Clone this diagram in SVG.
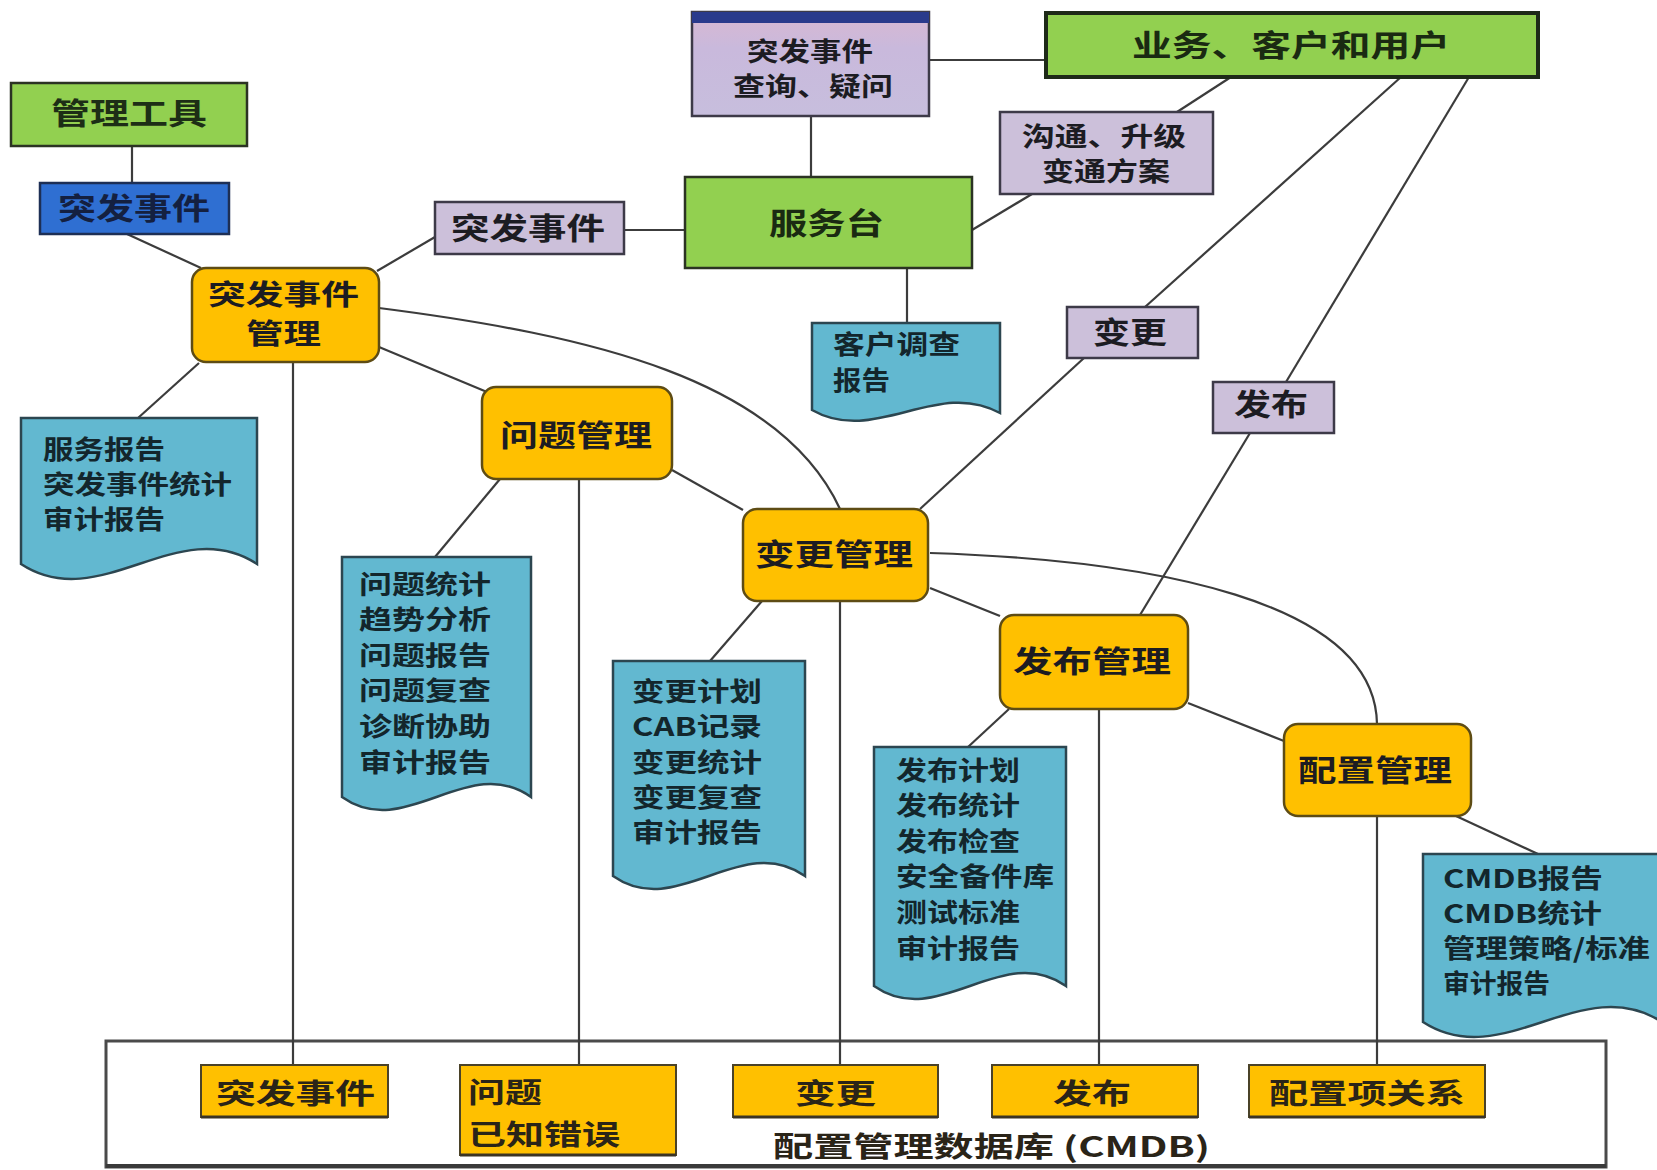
<svg xmlns="http://www.w3.org/2000/svg" width="1657" height="1170" viewBox="0 0 1657 1170">
<defs>
<linearGradient id="gq" x1="0" y1="0" x2="0" y2="1">
<stop offset="0" stop-color="#d9b8d2"/>
<stop offset="0.35" stop-color="#c9b9dc"/>
<stop offset="1" stop-color="#c7bedd"/>
</linearGradient>
</defs>
<style>
text{font-family:"Noto Sans CJK SC","Noto Sans",sans-serif;fill:#1c1c22;font-weight:600;}
.lbl{font-size:30px;}
.sm{font-size:26px;}
.doc-t{font-size:26px;fill:#13262c;}
.cm{font-size:28px;fill:#2a2418;}
.green{fill:#92d050;stroke:#2b3323;stroke-width:2.5;}
.purple{fill:#ccc0da;stroke:#3d3a48;stroke-width:2.5;}
.blue{fill:#2f6fd2;stroke:#1d2f55;stroke-width:2.5;}
.orange{fill:#ffc000;stroke:#5e4c14;stroke-width:2.5;}
.cmbox{fill:#ffc000;stroke:#4a4228;stroke-width:2;}
.doc{fill:#62b8d0;stroke:#2c4650;stroke-width:2.5;}
.conn line,.conn path{stroke:#3c3c3c;stroke-width:2.2;fill:none;}
</style>
<rect width="1657" height="1170" fill="#ffffff"/>

<g id="cmdb">
<rect x="106" y="1041" width="1500" height="126" fill="#ffffff" stroke="#4a4a4a" stroke-width="3"/>
<line x1="106" y1="1166" x2="1606" y2="1166" stroke="#3a3a3a" stroke-width="4"/>
<text class="cm" x="773" y="1157" textLength="437" lengthAdjust="spacingAndGlyphs" font-weight="bold">配置管理数据库 (CMDB)</text>
</g>

<g id="connectors" class="conn">
<line x1="132" y1="146" x2="132" y2="183"/>
<line x1="127" y1="234" x2="201" y2="268"/>
<line x1="377" y1="271" x2="435" y2="237"/>
<line x1="624" y1="230" x2="685" y2="230"/>
<line x1="929" y1="60" x2="1046" y2="60"/>
<line x1="811" y1="116" x2="811" y2="177"/>
<line x1="1231" y1="77" x2="1177" y2="112"/>
<line x1="1032" y1="194" x2="972" y2="230"/>
<line x1="907" y1="268" x2="907" y2="323"/>
<line x1="1401" y1="77" x2="1145" y2="307"/>
<line x1="1084" y1="358" x2="920" y2="509"/>
<line x1="1469" y1="77" x2="1286" y2="382"/>
<line x1="1250" y1="433" x2="1140" y2="615"/>
<line x1="199" y1="363" x2="138" y2="418"/>
<line x1="293" y1="362" x2="293" y2="1065"/>
<line x1="379" y1="347" x2="487" y2="392"/>
<path d="M379,308 C590,335 780,379 840,509"/>
<line x1="672" y1="470" x2="743" y2="510"/>
<line x1="500" y1="479" x2="435" y2="557"/>
<line x1="579" y1="479" x2="579" y2="1065"/>
<line x1="762" y1="601" x2="710" y2="661"/>
<line x1="840" y1="601" x2="840" y2="1065"/>
<line x1="930" y1="588" x2="1000" y2="616"/>
<path d="M930,553 C1150,560 1375,600 1377,724"/>
<line x1="1009" y1="709" x2="968" y2="747"/>
<line x1="1099" y1="709" x2="1099" y2="1065"/>
<line x1="1188" y1="703" x2="1284" y2="741"/>
<line x1="1377" y1="816" x2="1377" y2="1065"/>
<line x1="1456" y1="816" x2="1538" y2="854"/>
</g>

<g id="tools">
<rect class="green" x="11" y="83" width="236" height="63"/>
<text class="lbl" x="51" y="124" textLength="156" lengthAdjust="spacingAndGlyphs" style="fill:#1d2e16">管理工具</text>
</g>
<g id="incident-blue">
<rect class="blue" x="40" y="183" width="189" height="51"/>
<text class="lbl" x="58" y="219" textLength="152" lengthAdjust="spacingAndGlyphs" style="fill:#142040">突发事件</text>
</g>
<g id="incident-purple">
<rect class="purple" x="435" y="202" width="189" height="52"/>
<text class="lbl" x="451" y="239" textLength="154" lengthAdjust="spacingAndGlyphs">突发事件</text>
</g>
<g id="query">
<rect x="692" y="12" width="237" height="104" fill="url(#gq)" stroke="#3d3a48" stroke-width="2.5"/>
<rect x="692" y="12" width="237" height="11" fill="#2a3a8c"/>
<text class="sm"><tspan x="747" y="61" textLength="126" lengthAdjust="spacingAndGlyphs">突发事件</tspan><tspan x="733" y="96" textLength="160" lengthAdjust="spacingAndGlyphs">查询、疑问</tspan></text>
</g>
<g id="business">
<rect x="1046" y="13" width="492" height="64" fill="#92d050" stroke="#1e2a18" stroke-width="4"/>
<text class="lbl" x="1132" y="56" textLength="318" lengthAdjust="spacingAndGlyphs" style="fill:#1a2a12">业务、客户和用户</text>
</g>
<g id="servicedesk">
<rect class="green" x="685" y="177" width="287" height="91"/>
<text class="lbl" x="769" y="234" textLength="115" lengthAdjust="spacingAndGlyphs" style="fill:#1a2a12">服务台</text>
</g>
<g id="communicate">
<rect class="purple" x="1000" y="112" width="213" height="82"/>
<text class="sm"><tspan x="1022" y="146" textLength="164" lengthAdjust="spacingAndGlyphs">沟通、升级</tspan><tspan x="1042" y="181" textLength="128" lengthAdjust="spacingAndGlyphs">变通方案</tspan></text>
</g>
<g id="change-purple">
<rect class="purple" x="1067" y="307" width="131" height="51"/>
<text class="lbl" x="1093" y="343" textLength="74" lengthAdjust="spacingAndGlyphs">变更</text>
</g>
<g id="release-purple">
<rect class="purple" x="1213" y="382" width="121" height="51"/>
<text class="lbl" x="1234" y="415" textLength="74" lengthAdjust="spacingAndGlyphs">发布</text>
</g>

<g id="incident-mgmt">
<rect class="orange" x="192" y="268" width="187" height="94" rx="14"/>
<text style="font-size:28px"><tspan x="208" y="305" textLength="151" lengthAdjust="spacingAndGlyphs">突发事件</tspan><tspan x="246" y="344" textLength="75" lengthAdjust="spacingAndGlyphs">管理</tspan></text>
</g>
<g id="problem-mgmt">
<rect class="orange" x="482" y="387" width="190" height="92" rx="14"/>
<text class="lbl" x="500" y="446" textLength="152" lengthAdjust="spacingAndGlyphs">问题管理</text>
</g>
<g id="change-mgmt">
<rect class="orange" x="743" y="509" width="185" height="92" rx="14"/>
<text class="lbl" x="755" y="565" textLength="158" lengthAdjust="spacingAndGlyphs">变更管理</text>
</g>
<g id="release-mgmt">
<rect class="orange" x="1000" y="615" width="188" height="94" rx="14"/>
<text class="lbl" x="1013" y="672" textLength="158" lengthAdjust="spacingAndGlyphs">发布管理</text>
</g>
<g id="config-mgmt">
<rect class="orange" x="1284" y="724" width="187" height="92" rx="14"/>
<text class="lbl" x="1298" y="781" textLength="154" lengthAdjust="spacingAndGlyphs">配置管理</text>
</g>

<g id="doc-service">
<path class="doc" d="M21,418 H257 V564 C178,512 100,616 21,564 Z"/>
<text class="doc-t"><tspan x="43" y="459" textLength="122" lengthAdjust="spacingAndGlyphs">服务报告</tspan><tspan x="43" y="494" textLength="189" lengthAdjust="spacingAndGlyphs">突发事件统计</tspan><tspan x="43" y="529" textLength="122" lengthAdjust="spacingAndGlyphs">审计报告</tspan></text>
</g>
<g id="doc-customer">
<path class="doc" d="M812,323 H1000 V413 C937,378 875,446 812,410 Z"/>
<text class="doc-t"><tspan x="833" y="354" textLength="127" lengthAdjust="spacingAndGlyphs">客户调查</tspan><tspan x="833" y="390" textLength="57" lengthAdjust="spacingAndGlyphs">报告</tspan></text>
</g>
<g id="doc-problem">
<path class="doc" d="M342,557 H531 V797 C468,752 405,842 342,797 Z"/>
<text class="doc-t"><tspan x="359" y="594" textLength="132" lengthAdjust="spacingAndGlyphs">问题统计</tspan><tspan x="359" y="629" textLength="132" lengthAdjust="spacingAndGlyphs">趋势分析</tspan><tspan x="359" y="665" textLength="132" lengthAdjust="spacingAndGlyphs">问题报告</tspan><tspan x="359" y="700" textLength="132" lengthAdjust="spacingAndGlyphs">问题复查</tspan><tspan x="359" y="736" textLength="132" lengthAdjust="spacingAndGlyphs">诊断协助</tspan><tspan x="359" y="772" textLength="132" lengthAdjust="spacingAndGlyphs">审计报告</tspan></text>
</g>
<g id="doc-change">
<path class="doc" d="M613,661 H805 V876 C741,831 677,921 613,876 Z"/>
<text class="doc-t"><tspan x="632" y="701" textLength="130" lengthAdjust="spacingAndGlyphs">变更计划</tspan><tspan x="632" y="736" textLength="130" lengthAdjust="spacingAndGlyphs">CAB记录</tspan><tspan x="632" y="772" textLength="130" lengthAdjust="spacingAndGlyphs">变更统计</tspan><tspan x="632" y="807" textLength="130" lengthAdjust="spacingAndGlyphs">变更复查</tspan><tspan x="632" y="842" textLength="130" lengthAdjust="spacingAndGlyphs">审计报告</tspan></text>
</g>
<g id="doc-release">
<path class="doc" d="M874,747 H1066 V986 C1002,941 938,1031 874,986 Z"/>
<text class="doc-t"><tspan x="896" y="780" textLength="124" lengthAdjust="spacingAndGlyphs">发布计划</tspan><tspan x="896" y="815" textLength="124" lengthAdjust="spacingAndGlyphs">发布统计</tspan><tspan x="896" y="851" textLength="124" lengthAdjust="spacingAndGlyphs">发布检查</tspan><tspan x="896" y="886" textLength="158" lengthAdjust="spacingAndGlyphs">安全备件库</tspan><tspan x="896" y="922" textLength="124" lengthAdjust="spacingAndGlyphs">测试标准</tspan><tspan x="896" y="958" textLength="124" lengthAdjust="spacingAndGlyphs">审计报告</tspan></text>
</g>
<g id="doc-cmdb">
<path class="doc" d="M1423,854 H1662 V1022 C1582,970 1503,1074 1423,1022 Z"/>
<text class="doc-t"><tspan x="1443" y="888" textLength="160" lengthAdjust="spacingAndGlyphs">CMDB报告</tspan><tspan x="1443" y="923" textLength="159" lengthAdjust="spacingAndGlyphs">CMDB统计</tspan><tspan x="1443" y="958" textLength="207" lengthAdjust="spacingAndGlyphs">管理策略/标准</tspan><tspan x="1443" y="993" textLength="107" lengthAdjust="spacingAndGlyphs">审计报告</tspan></text>
</g>

<g id="cmdb-incident">
<rect class="cmbox" x="201" y="1065" width="187" height="52"/>
<line x1="201" y1="1117" x2="388" y2="1117" stroke="#3a3424" stroke-width="3"/>
<text class="cm" x="216" y="1104" textLength="159" lengthAdjust="spacingAndGlyphs">突发事件</text>
</g>
<g id="cmdb-problem">
<rect class="cmbox" x="460" y="1065" width="216" height="90"/>
<line x1="460" y1="1155" x2="676" y2="1155" stroke="#3a3424" stroke-width="3"/>
<text class="cm"><tspan x="468" y="1103" textLength="74" lengthAdjust="spacingAndGlyphs">问题</tspan><tspan x="468" y="1145" textLength="152" lengthAdjust="spacingAndGlyphs">已知错误</tspan></text>
</g>
<g id="cmdb-change">
<rect class="cmbox" x="733" y="1065" width="205" height="52"/>
<line x1="733" y1="1117" x2="938" y2="1117" stroke="#3a3424" stroke-width="3"/>
<text class="cm" x="795" y="1104" textLength="81" lengthAdjust="spacingAndGlyphs">变更</text>
</g>
<g id="cmdb-release">
<rect class="cmbox" x="992" y="1065" width="206" height="52"/>
<line x1="992" y1="1117" x2="1198" y2="1117" stroke="#3a3424" stroke-width="3"/>
<text class="cm" x="1053" y="1104" textLength="78" lengthAdjust="spacingAndGlyphs">发布</text>
</g>
<g id="cmdb-ci">
<rect class="cmbox" x="1249" y="1065" width="236" height="52"/>
<line x1="1249" y1="1117" x2="1485" y2="1117" stroke="#3a3424" stroke-width="3"/>
<text class="cm" x="1269" y="1104" textLength="196" lengthAdjust="spacingAndGlyphs">配置项关系</text>
</g>
</svg>
